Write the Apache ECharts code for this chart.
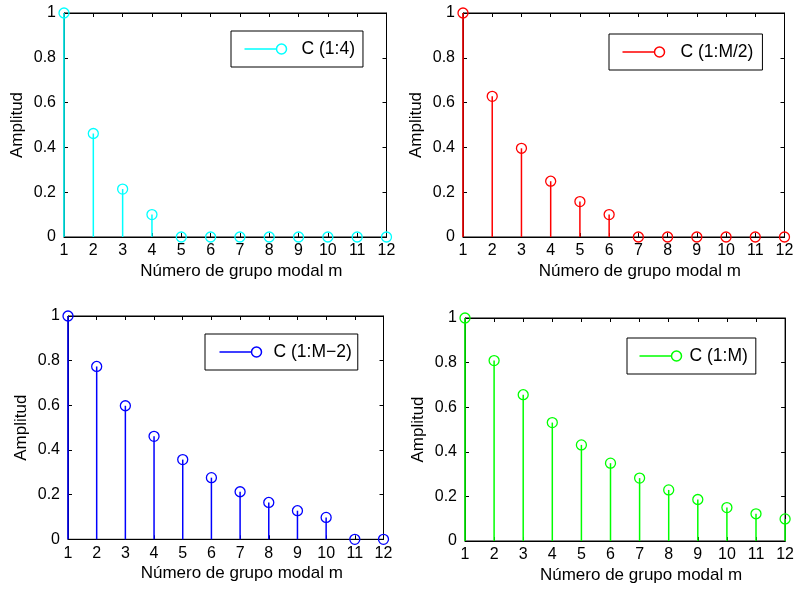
<!DOCTYPE html>
<html>
<head>
<meta charset="utf-8">
<script src="https://cdn.jsdelivr.net/npm/echarts@6/dist/echarts.min.js"></script>
<style>
  html, body { margin: 0; padding: 0; background: #fff; }
  #chart { width: 797px; height: 590px; }
</style>
</head>
<body>
<div id="chart"></div>
<script>
// modal group number m
const groups = [1, 2, 3, 4, 5, 6, 7, 8, 9, 10, 11, 12]
// amplitudes
const c14 = [1, 0.462, 0.214, 0.1, 0, 0, 0, 0, 0, 0, 0, 0]
const cM2 = [1, 0.628, 0.396, 0.249, 0.158, 0.1, 0, 0, 0, 0, 0, 0]
const cMm2 = [1, 0.774, 0.598, 0.461, 0.357, 0.276, 0.213, 0.165, 0.128, 0.098, 0, 0]
const cM = [1, 0.809, 0.656, 0.531, 0.431, 0.349, 0.282, 0.229, 0.186, 0.15, 0.122, 0.099]
const names = ['C (1:4)', 'C (1:M/2)', 'C (1:M\u22122)', 'C (1:M)']
const yTicks = [0, 0.2, 0.4, 0.6, 0.8, 1]

const font = 'Liberation Sans, Arial, Helvetica, sans-serif'
const colors = ['#00ffff', '#ff0000', '#0000ff', '#00ff00']
const values = [c14, cM2, cMm2, cM]

const grids = [
  { left: 64, top: 13, width: 322.5, height: 224 },
  { left: 463, top: 13, width: 321.5, height: 224 },
  { left: 68, top: 316, width: 315.5, height: 223.3 },
  { left: 465, top: 318, width: 321, height: 223 }
]
const legendPos = [
  { left: 231, top: 31, pad: [9, 8, 9, 11], gap: 10 },
  { left: 609, top: 34, pad: [9, 9, 9, 11], gap: 11 },
  { left: 205, top: 334, pad: [9, 6, 9, 12], gap: 7 },
  { left: 627, top: 338, pad: [9, 8, 9, 10], gap: 3 }
]

// line + open circle, like a matlab legend entry
const stemIcon = 'path://M0,5 L32,5 M42,5 A5,5 0 1,1 32,5 A5,5 0 1,1 42,5'

function renderStem(params, api) {
  const base = api.coord([api.value(0), 0])
  const top = api.coord([api.value(0), api.value(1)])
  const color = api.visual('color')
  return {
    type: 'group',
    children: [
      { type: 'line', shape: { x1: base[0], y1: base[1], x2: top[0], y2: top[1] }, style: { stroke: color, lineWidth: 1.5 } },
      { type: 'circle', shape: { cx: top[0], cy: top[1], r: 5 }, style: { fill: 'none', stroke: color, lineWidth: 1.3 } }
    ]
  }
}

const xAxis = []
const yAxis = []
const series = []
const legend = []

grids.forEach((g, i) => {
  const tick = { show: true, inside: true, length: 4, lineStyle: { color: '#000' } }
  const line = { show: true, onZero: false, lineStyle: { color: '#000', width: 1 } }
  xAxis.push({
    type: 'value', gridIndex: i, min: 1, max: 12, interval: 1,
    axisLine: line, axisTick: tick, splitLine: { show: false },
    axisLabel: { color: '#000', fontSize: 16, fontFamily: font, margin: 6 },
    name: 'Número de grupo modal m', nameLocation: 'middle', nameGap: 26,
    nameTextStyle: { color: '#000', fontSize: 17, fontFamily: font, padding: [0, 0, 0, 32] }
  })
  xAxis.push({
    type: 'value', gridIndex: i, min: 1, max: 12, interval: 1, position: 'top',
    axisLine: line, axisTick: tick, axisLabel: { show: false }, splitLine: { show: false }
  })
  yAxis.push({
    type: 'value', gridIndex: i, min: yTicks[0], max: yTicks[yTicks.length - 1], interval: 0.2,
    axisLine: line, axisTick: tick, splitLine: { show: false },
    axisLabel: { color: '#000', fontSize: 16, fontFamily: font, margin: 8 },
    name: 'Amplitud', nameLocation: 'middle', nameGap: 38, nameRotate: 90,
    nameTextStyle: { color: '#000', fontSize: 17, fontFamily: font }
  })
  yAxis.push({
    type: 'value', gridIndex: i, min: 0, max: 1, interval: 0.2, position: 'right',
    axisLine: line, axisTick: tick, axisLabel: { show: false }, splitLine: { show: false }
  })
  series.push({
    name: names[i],
    type: 'custom',
    xAxisIndex: i * 2,
    yAxisIndex: i * 2,
    color: colors[i],
    renderItem: renderStem,
    clip: false,
    data: groups.map((m, k) => [m, values[i][k]])
  })
  const lp = legendPos[i]
  legend.push({
    data: [{ name: names[i], icon: stemIcon, itemStyle: { color: 'none', borderColor: colors[i], borderWidth: 1.5 } }],
    left: lp.left, top: lp.top, padding: lp.pad,
    itemWidth: 42, itemHeight: 10,
    borderColor: '#000', borderWidth: 1, backgroundColor: '#fff',
    selectedMode: false,
    textStyle: { color: '#000', fontSize: 17.5, fontFamily: font, padding: [0, 0, 0, lp.gap] }
  })
})

const option = {
  backgroundColor: '#fff',
  animation: false,
  grid: grids.map(g => Object.assign({ show: true, borderColor: '#000', borderWidth: 1, backgroundColor: '#fff' }, g)),
  legend: legend,
  xAxis: xAxis,
  yAxis: yAxis,
  series: series
}

const myChart = echarts.init(document.getElementById('chart'))
option && myChart.setOption(option)
</script>
</body>
</html>
